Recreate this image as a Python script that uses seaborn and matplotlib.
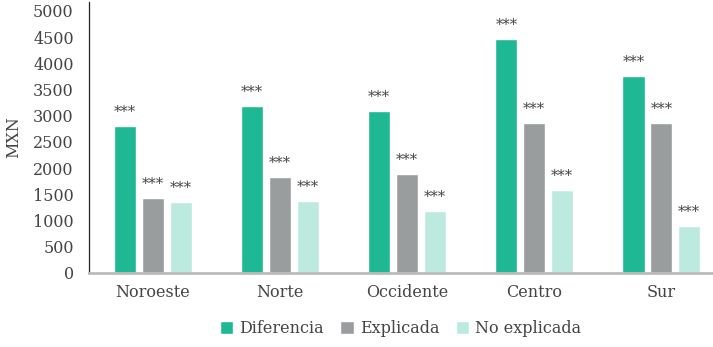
import numpy as np
import pandas as pd
import matplotlib
matplotlib.use("Agg")
import matplotlib.pyplot as plt
import seaborn as sns

regiones = ["Noroeste", "Norte", "Occidente", "Centro", "Sur"]
series = ["Diferencia", "Explicada", "No explicada"]
diferencia = [2800, 3190, 3095, 4460, 3760]
explicada = [1435, 1830, 1895, 2865, 2865]
no_explicada = [1360, 1365, 1190, 1580, 895]
significancia = "***"

colores = ["#1fb894", "#9a9d9d", "#bdeadf"]
texto = "#444444"

df = pd.DataFrame({
    "Región": regiones * 3,
    "Componente": [s for s in series for _ in regiones],
    "Valor": diferencia + explicada + no_explicada,
})

sns.set_style("white")
plt.rcParams["font.family"] = ["DejaVu Serif"]

fig = plt.figure(figsize=(7.13, 3.47), dpi=100)
ax = fig.add_axes([0.1248, 0.2133, 0.874, 0.781])

sns.barplot(data=df, x="Región", y="Valor", hue="Componente",
            order=regiones, hue_order=series, palette=colores,
            width=0.66, gap=0.2, saturation=1, errorbar=None, ax=ax)

for cont in ax.containers:
    for bar in cont:
        h = bar.get_height()
        ax.annotate(significancia, (bar.get_x() + bar.get_width() / 2, h),
                    xytext=(0, 5), textcoords="offset points",
                    ha="center", va="bottom", fontsize=10.5, color=texto)

ax.set_ylim(0, 5170)
ax.set_xlim(-0.504, 4.40)
ax.set_yticks(np.arange(0, 5001, 500))
ax.tick_params(axis="both", length=0, labelsize=11.5, colors=texto)
ax.tick_params(axis="x", pad=8)
ax.tick_params(axis="y", pad=11)
ax.set_xlabel("")
ax.set_ylabel("MXN", fontsize=11.5, color=texto, labelpad=8)

for s in ["top", "right"]:
    ax.spines[s].set_visible(False)
ax.spines["left"].set_color("#222222")
ax.spines["left"].set_linewidth(0.9)
ax.spines["bottom"].set_color("#bbbbbb")
ax.spines["bottom"].set_linewidth(2)

ax.legend(loc="upper center", bbox_to_anchor=(0.5, -0.12), ncol=3,
          frameon=False, fontsize=11.5, handlelength=0.85, handleheight=0.85,
          handletextpad=0.4, columnspacing=1.0, labelcolor=texto)

fig.savefig("out.png", dpi=100)
